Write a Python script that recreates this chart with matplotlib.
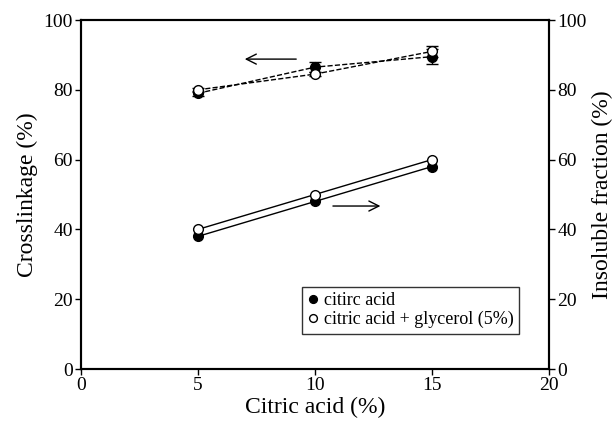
import matplotlib
matplotlib.use("Agg")
import matplotlib.pyplot as plt

plt.rcParams['font.family'] = ['Liberation Serif', 'DejaVu Serif']
plt.rcParams['mathtext.fontset'] = 'stix'

citric = [5, 10, 15]
cross_ca = [79, 86.5, 89.5]
cross_ca_err = [0.8, 1.5, 2.2]
cross_cg = [80, 84.5, 91]
cross_cg_err = [0.5, 0.6, 1.5]
insol_ca = [38, 48, 58]
insol_cg = [40, 50, 60]

fig = plt.figure(figsize=(6.16, 4.26), dpi=100)
ax = fig.add_axes([0.1315, 0.1338, 0.7595, 0.8192])
ax2 = ax.twinx()

ms = 7
ax.errorbar(citric, cross_ca, yerr=cross_ca_err, fmt='o', ls='--', color='black',
            mfc='black', mec='black', ms=ms, lw=1, capsize=4, elinewidth=1, zorder=3)
ax.errorbar(citric, cross_cg, yerr=cross_cg_err, fmt='o', ls='--', color='black',
            mfc='white', mec='black', ms=ms, lw=1, capsize=4, elinewidth=1, zorder=4)

ax2.plot(citric, insol_ca, 'o-', color='black', mfc='black', mec='black', ms=ms, lw=1, label='citirc acid')
ax2.plot(citric, insol_cg, 'o-', color='black', mfc='white', mec='black', ms=ms, lw=1,
         label='citric acid + glycerol (5%)')

for a in (ax, ax2):
    a.set_ylim(0, 100)
    a.set_yticks([0, 20, 40, 60, 80, 100])
    a.tick_params(direction='out', length=4, width=1, labelsize=14, pad=2)
    for s in a.spines.values():
        s.set_linewidth(1.5)
ax.set_xlim(0, 20)
ax.set_xticks([0, 5, 10, 15, 20])

ax.set_xlabel('Citric acid (%)', fontsize=17, labelpad=2)
ax.set_ylabel('Crosslinkage (%)', fontsize=17, labelpad=4)
ax2.set_ylabel('Insoluble fraction (%)', fontsize=17, labelpad=4)

ax.annotate('', xy=(7.0, 88.8), xytext=(9.2, 88.8),
            arrowprops=dict(arrowstyle='->', color='black', lw=1, mutation_scale=18,
                            shrinkA=0, shrinkB=0))
ax.annotate('', xy=(12.8, 46.7), xytext=(10.77, 46.7),
            arrowprops=dict(arrowstyle='->', color='black', lw=1, mutation_scale=18,
                            shrinkA=0, shrinkB=0))

leg = ax2.legend(loc='lower right', bbox_to_anchor=(0.955, 0.075), fontsize=13, frameon=True,
                 fancybox=False, edgecolor='black', handlelength=0.6, handletextpad=0.3,
                 borderpad=0.3, labelspacing=0.1, markerscale=0.8)
leg.get_frame().set_linewidth(1)
for h in leg.legend_handles:
    h.set_linestyle('None')

fig.savefig('out.png', dpi=100)
